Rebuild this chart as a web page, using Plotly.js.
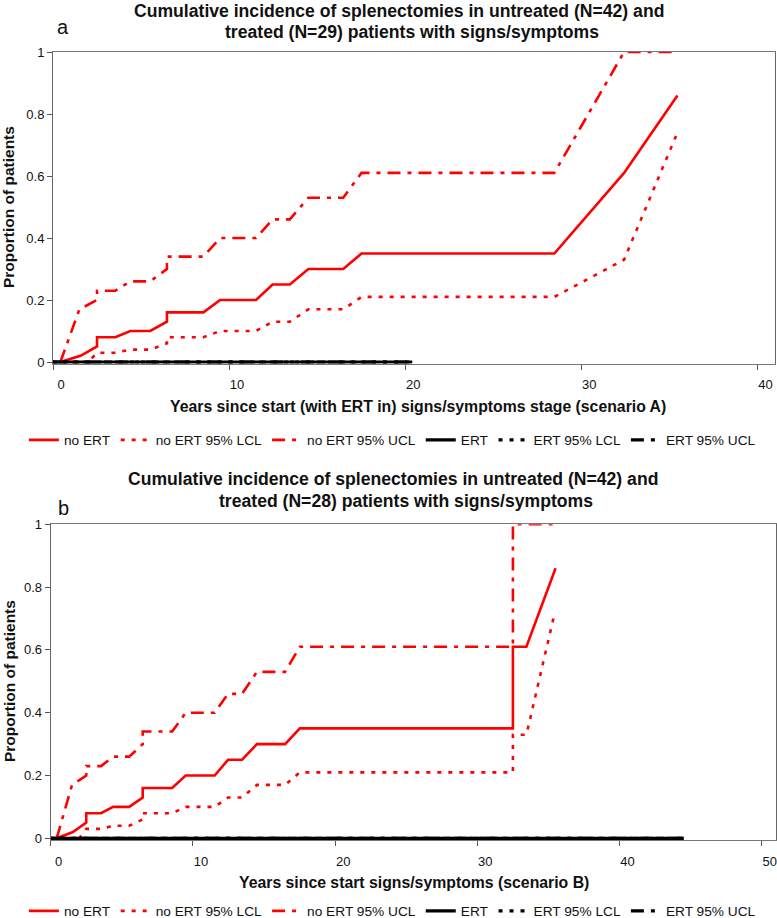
<!DOCTYPE html>
<html>
<head>
<meta charset="utf-8">
<script src="https://cdn.plot.ly/plotly-3.0.1.min.js"></script>
<style>
  html, body { margin: 0; padding: 0; background: #fff; }
  #chart { width: 777px; height: 918px; }
</style>
</head>
<body>
<div id="chart"></div>
<script>
// Scenario A (top panel): years and cumulative proportions
const noErtAx = [0.42, 1.56, 2.5, 2.5, 3.54, 4.39, 5.52, 6.47, 6.47, 8.54, 9.49, 11.53, 12.47, 13.45, 14.5, 16.48, 17.52, 28.47, 32.43, 35.46];
const noErtAy = [0, 0.02, 0.05, 0.08, 0.08, 0.10, 0.10, 0.13, 0.16, 0.16, 0.20, 0.20, 0.25, 0.25, 0.30, 0.30, 0.35, 0.35, 0.61, 0.86];
const lclAx = [0.42, 2.0, 2.5, 3.54, 4.39, 5.52, 6.47, 6.47, 8.54, 9.49, 11.53, 12.47, 13.45, 14.5, 16.48, 17.52, 28.47, 32.43, 35.46];
const lclAy = [0, 0, 0.03, 0.03, 0.04, 0.04, 0.06, 0.08, 0.08, 0.10, 0.10, 0.13, 0.13, 0.17, 0.17, 0.21, 0.21, 0.33, 0.74];
const uclAx = [0.42, 1.5, 2.5, 2.5, 3.54, 4.39, 5.52, 6.47, 6.47, 8.54, 9.49, 11.53, 12.47, 13.45, 14.5, 16.48, 17.52, 28.47, 32.43, 35.46];
const uclAy = [0, 0.17, 0.20, 0.23, 0.23, 0.26, 0.26, 0.30, 0.34, 0.34, 0.40, 0.40, 0.46, 0.46, 0.53, 0.53, 0.61, 0.61, 1.0, 1.0];
const ertAx = [0, 20.4];
const ertAy = [0, 0];

// Scenario B (bottom panel)
const noErtBx = [0.42, 1.56, 2.5, 2.5, 3.54, 4.39, 5.52, 6.47, 6.47, 8.54, 9.49, 11.53, 12.47, 13.45, 14.5, 16.48, 17.52, 32.5, 32.5, 33.45, 35.5];
const noErtBy = [0, 0.02, 0.05, 0.08, 0.08, 0.10, 0.10, 0.13, 0.16, 0.16, 0.20, 0.20, 0.25, 0.25, 0.30, 0.30, 0.35, 0.35, 0.61, 0.61, 0.86];
const lclBx = [0.42, 2.0, 2.5, 3.54, 4.39, 5.52, 6.47, 6.47, 8.54, 9.49, 11.53, 12.47, 13.45, 14.5, 16.48, 17.52, 32.5, 32.5, 33.45, 35.45];
const lclBy = [0, 0, 0.03, 0.03, 0.04, 0.04, 0.06, 0.08, 0.08, 0.10, 0.10, 0.13, 0.13, 0.17, 0.17, 0.21, 0.21, 0.33, 0.33, 0.72];
const uclBx = [0.42, 1.5, 2.5, 2.5, 3.54, 4.39, 5.52, 6.47, 6.47, 8.54, 9.49, 11.53, 12.47, 13.45, 14.5, 16.48, 17.52, 32.5, 32.5, 35.5];
const uclBy = [0, 0.17, 0.20, 0.23, 0.23, 0.26, 0.26, 0.30, 0.34, 0.34, 0.40, 0.40, 0.46, 0.46, 0.53, 0.53, 0.61, 0.61, 1.0, 1.0];
const ertBx = [0, 44.5];
const ertBy = [0, 0];

const seriesNames = ['no ERT', 'no ERT 95% LCL', 'no ERT 95% UCL', 'ERT', 'ERT 95% LCL', 'ERT 95% UCL'];
const yTicks = [0, 0.2, 0.4, 0.6, 0.8, 1];

const FONT = 'Liberation Sans, Arial, sans-serif';
const RED = '#ff0000';
const DOT = '4px,7px';
const DASHDOT = '13px,7px,4px,7px';
// a little room under y=0 so the thick ERT line is not cut in half
const Y_PAD = 0.006;

function panelTraces(suffix, legendId, nx, ny, lx, ly, ux, uy, ex, ey) {
    const xa = 'x' + suffix, ya = 'y' + suffix;
    const base = { type: 'scatter', mode: 'lines', xaxis: xa, yaxis: ya, legend: legendId, hoverinfo: 'none' };
    return [
        Object.assign({}, base, { x: nx, y: ny, name: seriesNames[0], line: { color: RED, width: 2.6 } }),
        Object.assign({}, base, { x: lx, y: ly, name: seriesNames[1], line: { color: RED, width: 2.6, dash: DOT } }),
        Object.assign({}, base, { x: ux, y: uy, name: seriesNames[2], line: { color: RED, width: 2.6, dash: DASHDOT } }),
        Object.assign({}, base, { x: ex, y: ey, name: seriesNames[3], line: { color: '#000', width: 3.2 } }),
        Object.assign({}, base, { x: ex, y: ey, name: seriesNames[4], line: { color: '#000', width: 3.2, dash: DOT } }),
        Object.assign({}, base, { x: ex, y: ey, name: seriesNames[5], line: { color: '#000', width: 3.2, dash: DASHDOT } })
    ];
}

const traces = [].concat(
    panelTraces('', 'legend', noErtAx, noErtAy, lclAx, lclAy, uclAx, uclAy, ertAx, ertAy),
    panelTraces('2', 'legend2', noErtBx, noErtBy, lclBx, lclBy, uclBx, uclBy, ertBx, ertBy)
);

const W = 777, H = 918;
const px = v => v / W;
const py = v => 1 - v / H;

function xAxis(domain, max, anchor) {
    return {
        domain: domain, range: [0, max], anchor: anchor,
        tickvals: [0, 10, 20, 30, 40, 50].filter(v => v <= max),
        ticks: 'outside', ticklen: 5, tickcolor: '#555',
        ticklabelshift: 8, ticklabelstandoff: 4, ticklabeloverflow: 'allow',
        showline: true, linecolor: '#777', linewidth: 1, mirror: true,
        showgrid: false, zeroline: false, fixedrange: true,
        tickfont: { family: FONT, size: 13, color: '#111' }
    };
}

// y0, y1: pixel rows of the values 0 and 1
function yAxis(y0, y1, anchor) {
    const extra = (y0 - y1) * Y_PAD;
    return {
        domain: [py(y0 + extra), py(y1)], range: [-Y_PAD, 1], anchor: anchor,
        tickvals: yTicks,
        ticks: 'outside', ticklen: 5, tickcolor: '#555',
        showline: true, linecolor: '#666', linewidth: 1, mirror: true,
        showgrid: false, zeroline: false, fixedrange: true,
        tickfont: { family: FONT, size: 13, color: '#111' }
    };
}

function legend(yPix) {
    return {
        orientation: 'h', x: 0.505, xanchor: 'center', y: py(yPix), yanchor: 'middle',
        bgcolor: 'rgba(0,0,0,0)', itemwidth: 30, itemclick: false, itemdoubleclick: false,
        font: { family: FONT, size: 13.7, color: '#111' }
    };
}

function text(x, y, str, size, extra) {
    return Object.assign({
        xref: 'paper', yref: 'paper', x: px(x), y: py(y), text: str, showarrow: false,
        xanchor: 'center', yanchor: 'middle',
        font: { family: FONT, size: size, color: '#111' }
    }, extra || {});
}

const annotations = [
    text(399, 11, '<b>Cumulative incidence of splenectomies in untreated (N=42) and</b>', 17.6),
    text(412, 32, '<b>treated (N=29) patients with signs/symptoms</b>', 17.6),
    text(63, 27, 'a', 20),
    text(9, 207, '<b>Proportion of patients</b>', 15.5, { textangle: -90 }),
    text(418, 406, '<b>Years since start (with ERT in) signs/symptoms stage (scenario A)</b>', 15.8),

    text(393, 479, '<b>Cumulative incidence of splenectomies in untreated (N=42) and</b>', 17.6),
    text(406, 501, '<b>treated (N=28) patients with signs/symptoms</b>', 17.6),
    text(63, 508, 'b', 20),
    text(9, 681, '<b>Proportion of patients</b>', 15.5, { textangle: -90 }),
    text(414, 882, '<b>Years since start signs/symptoms (scenario B)</b>', 15.8)
];

const layout = {
    width: W, height: H,
    margin: { l: 0, r: 0, t: 0, b: 0, autoexpand: false },
    paper_bgcolor: '#fff', plot_bgcolor: '#fff',
    showlegend: true,
    xaxis: xAxis([px(53), px(775)], 41, 'y'),
    yaxis: yAxis(362, 52, 'x'),
    xaxis2: xAxis([px(50.7), px(776)], 51, 'y2'),
    yaxis2: yAxis(838.3, 524.3, 'x2'),
    legend: legend(440),
    legend2: legend(911),
    annotations: annotations
};

Plotly.newPlot('chart', traces, layout, { staticPlot: true, displayModeBar: false });
</script>
</body>
</html>
